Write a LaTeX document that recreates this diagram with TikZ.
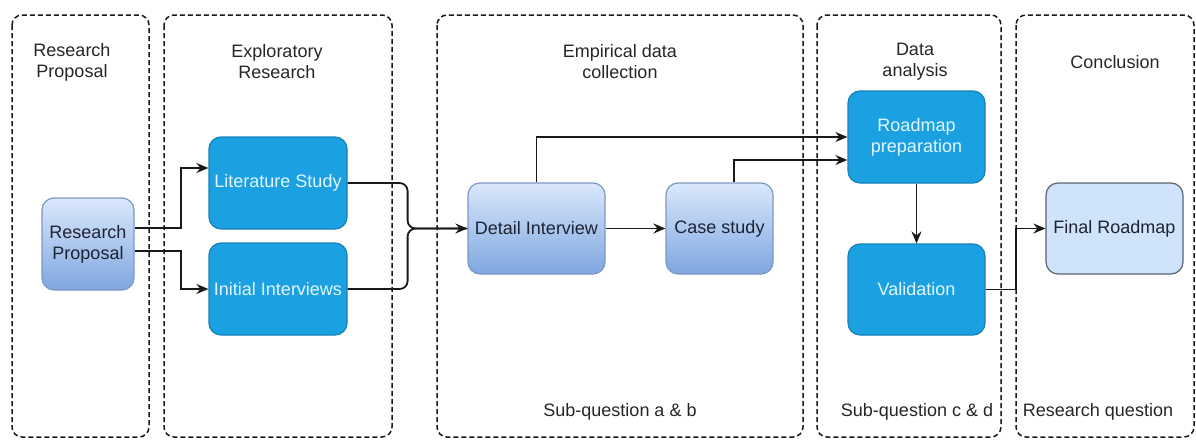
\documentclass[tikz,border=0pt]{standalone}
\usepackage{fontspec}
\setmainfont{Liberation Sans}
\usetikzlibrary{arrows.meta}
\definecolor{dblue}{HTML}{1BA1E2}
\definecolor{dblueline}{HTML}{1580B8}
\definecolor{btext}{HTML}{E3F6FF}
\definecolor{gtop}{HTML}{DAE8FC}
\definecolor{gbot}{HTML}{7EA6E0}
\definecolor{gline}{HTML}{7D97C4}
\definecolor{ltfill}{HTML}{CFE4FA}
\definecolor{ltline}{HTML}{5A6270}
\definecolor{dtext}{HTML}{1E2233}
\begin{document}
\begin{tikzpicture}[x=1pt,y=-1pt,
  lane/.style={draw=black!90, dash pattern=on 5pt off 3pt, line width=1.5pt, rounded corners=10pt},
  txt/.style={font=\fontsize{18}{21}\selectfont},
  title/.style={txt, align=center, text=black!85},
  bluebox/.style={txt, draw=dblueline, fill=dblue, rounded corners=12pt, text=btext, line width=1.2pt, align=center, minimum width=137pt, minimum height=91pt},
  gradbox/.style={txt, draw=gline, top color=gtop, bottom color=gbot, rounded corners=12pt, text=dtext, line width=1.2pt, align=center, minimum height=91pt},
  lightbox/.style={txt, draw=ltline, fill=ltfill, rounded corners=12pt, text=dtext, line width=1.2pt, align=center, minimum width=137pt, minimum height=91pt},
  arr/.style={-{Stealth[length=12pt,width=10pt,inset=4pt]}, line width=1.8pt, black!90},
  ln/.style={line width=1.8pt, black!90}
]
\useasboundingbox (0,0) rectangle (1196,439);
% lanes
\draw[lane] (12,15) rectangle (149,437);
\draw[lane] (164,15) rectangle (392,437);
\draw[lane] (437,15) rectangle (803,437);
\draw[lane] (817,15) rectangle (1001,437);
\draw[lane] (1016,15) rectangle (1194,437);
% titles
\node[title] (t1) at (72,62) {Research\\Proposal};
\node[title] (t2) at (277,62) {Exploratory\\Research};
\node[title] (t3) at (620,62) {Empirical data\\collection};
\node[title] (t4) at (915,62) {Data\\analysis};
\node[title] (t5) at (1115,62) {Conclusion};
% bottom labels
\node[title] (b3) at (620,412) {Sub-question a \& b};
\node[title] (b4) at (917,412) {Sub-question c \& d};
\node[title] (b5) at (1098,412) {Research question};
% nodes
\node[gradbox, minimum width=92pt, minimum height=92pt] (rp) at (88,244) {Research\\Proposal};
\node[bluebox, minimum width=138pt, minimum height=92pt] (lit) at (278,183) {Literature Study};
\node[bluebox, minimum width=138pt, minimum height=92pt] (ii) at (278,289) {Initial Interviews};
\node[gradbox, minimum width=137pt] (di) at (536.5,228.5) {Detail Interview};
\node[gradbox, minimum width=107pt] (cs) at (719.5,228.5) {Case study};
\node[bluebox, minimum height=92pt] (rm) at (916.5,137) {Roadmap\\preparation};
\node[bluebox] (val) at (916.5,289.5) {Validation};
\node[lightbox] (fr) at (1114.5,228.5) {Final Roadmap};
% edges
\draw[arr] ([yshift=16pt]rp.east) -- ++(46,0) |- ([yshift=15pt]lit.west);
\draw[arr] ([yshift=-7pt]rp.east) -- ++(46,0) |- (ii.west);
\draw[ln, rounded corners=8pt] (lit.east) -- ++(60,0) |- (di.west);
\draw[arr, rounded corners=8pt] (ii.east) -- ++(60,0) |- (di.west);
\draw[arr] (di) -- (cs);
\draw[arr] (di.north) |- (rm.west);
\draw[arr] ([xshift=14.5pt]cs.north) |- ([yshift=-23pt]rm.west);
\draw[arr] (rm) -- (val);
\draw[arr] (val.east) -- ++(30,0) |- (fr.west);
\end{tikzpicture}
\end{document}
